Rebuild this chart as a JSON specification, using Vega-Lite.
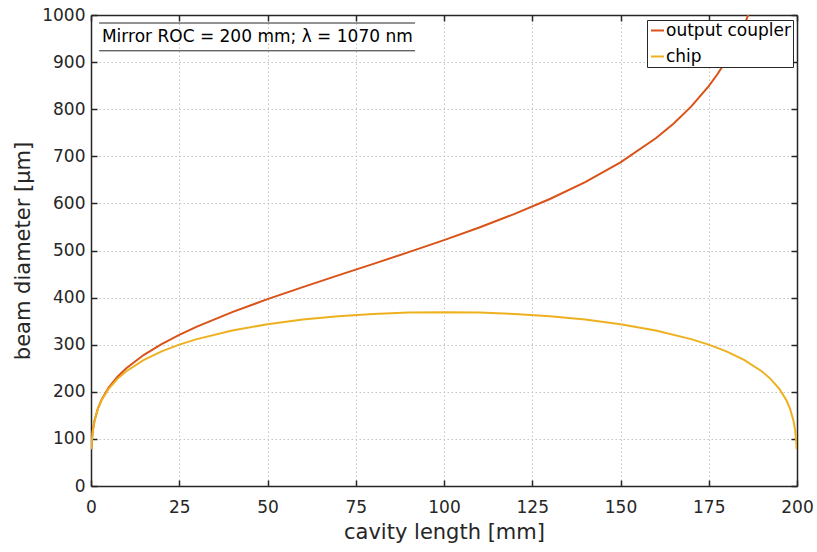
{
  "$schema": "https://vega.github.io/schema/vega-lite/v6.json",
  "width": 706,
  "height": 471,
  "autosize": "none",
  "padding": {"left": 91, "top": 15, "right": 20, "bottom": 66},
  "background": "white",
  "config": {
    "view": {"stroke": null},
    "font": "DejaVu Sans",
    "axis": {
      "labelFont": "DejaVu Sans",
      "titleFont": "DejaVu Sans",
      "labelFontSize": 17,
      "titleFontSize": 21,
      "titleFontWeight": "normal",
      "labelColor": "#262626",
      "titleColor": "#262626",
      "labelFlush": false,
      "labelOverlap": false,
      "format": "d",
      "domainColor": "#262626",
      "domainWidth": 1.5,
      "tickColor": "#262626",
      "tickWidth": 1.5,
      "tickSize": 6,
      "gridColor": "#c4c4c4",
      "gridDash": [1.5, 2.5],
      "gridWidth": 1
    }
  },
  "layer": [
    {
      "data": {
        "values": [
          {"L": 0.1, "D": 78.07, "s": "output coupler"},
          {"L": 0.2, "D": 92.85, "s": "output coupler"},
          {"L": 0.5, "D": 116.8, "s": "output coupler"},
          {"L": 1, "D": 138.98, "s": "output coupler"},
          {"L": 2, "D": 165.49, "s": "output coupler"},
          {"L": 3, "D": 183.37, "s": "output coupler"},
          {"L": 5, "D": 208.88, "s": "output coupler"},
          {"L": 7.5, "D": 231.91, "s": "output coupler"},
          {"L": 10, "D": 250.03, "s": "output coupler"},
          {"L": 15, "D": 278.55, "s": "output coupler"},
          {"L": 20, "D": 301.38, "s": "output coupler"},
          {"L": 25, "D": 320.92, "s": "output coupler"},
          {"L": 30, "D": 338.33, "s": "output coupler"},
          {"L": 40, "D": 369.11, "s": "output coupler"},
          {"L": 50, "D": 396.64, "s": "output coupler"},
          {"L": 60, "D": 422.35, "s": "output coupler"},
          {"L": 70, "D": 447.16, "s": "output coupler"},
          {"L": 80, "D": 471.68, "s": "output coupler"},
          {"L": 90, "D": 496.46, "s": "output coupler"},
          {"L": 100, "D": 522.0, "s": "output coupler"},
          {"L": 110, "D": 548.86, "s": "output coupler"},
          {"L": 120, "D": 577.69, "s": "output coupler"},
          {"L": 130, "D": 609.37, "s": "output coupler"},
          {"L": 140, "D": 645.16, "s": "output coupler"},
          {"L": 150, "D": 686.99, "s": "output coupler"},
          {"L": 160, "D": 738.22, "s": "output coupler"},
          {"L": 165, "D": 769.17, "s": "output coupler"},
          {"L": 170, "D": 805.38, "s": "output coupler"},
          {"L": 175, "D": 849.07, "s": "output coupler"},
          {"L": 177.5, "D": 874.8, "s": "output coupler"},
          {"L": 180, "D": 904.13, "s": "output coupler"},
          {"L": 183, "D": 945.52, "s": "output coupler"},
          {"L": 185, "D": 978.23, "s": "output coupler"},
          {"L": 186, "D": 996.59, "s": "output coupler"},
          {"L": 186.2, "D": 1000.45, "s": "output coupler"},
          {"L": 0.1, "D": 78.05, "s": "chip"},
          {"L": 0.2, "D": 92.8, "s": "chip"},
          {"L": 0.5, "D": 116.65, "s": "chip"},
          {"L": 1, "D": 138.63, "s": "chip"},
          {"L": 2, "D": 164.65, "s": "chip"},
          {"L": 3, "D": 181.98, "s": "chip"},
          {"L": 5, "D": 206.25, "s": "chip"},
          {"L": 7.5, "D": 227.52, "s": "chip"},
          {"L": 10, "D": 243.69, "s": "chip"},
          {"L": 15, "D": 267.89, "s": "chip"},
          {"L": 20, "D": 285.9, "s": "chip"},
          {"L": 25, "D": 300.18, "s": "chip"},
          {"L": 30, "D": 311.91, "s": "chip"},
          {"L": 40, "D": 330.13, "s": "chip"},
          {"L": 50, "D": 343.49, "s": "chip"},
          {"L": 60, "D": 353.36, "s": "chip"},
          {"L": 70, "D": 360.5, "s": "chip"},
          {"L": 80, "D": 365.35, "s": "chip"},
          {"L": 90, "D": 368.17, "s": "chip"},
          {"L": 100, "D": 369.1, "s": "chip"},
          {"L": 110, "D": 368.17, "s": "chip"},
          {"L": 120, "D": 365.35, "s": "chip"},
          {"L": 130, "D": 360.5, "s": "chip"},
          {"L": 140, "D": 353.36, "s": "chip"},
          {"L": 150, "D": 343.49, "s": "chip"},
          {"L": 160, "D": 330.13, "s": "chip"},
          {"L": 170, "D": 311.91, "s": "chip"},
          {"L": 175, "D": 300.18, "s": "chip"},
          {"L": 180, "D": 285.9, "s": "chip"},
          {"L": 185, "D": 267.89, "s": "chip"},
          {"L": 190, "D": 243.69, "s": "chip"},
          {"L": 192.5, "D": 227.52, "s": "chip"},
          {"L": 195, "D": 206.25, "s": "chip"},
          {"L": 197, "D": 181.98, "s": "chip"},
          {"L": 198, "D": 164.65, "s": "chip"},
          {"L": 199, "D": 138.63, "s": "chip"},
          {"L": 199.5, "D": 116.65, "s": "chip"},
          {"L": 199.8, "D": 92.8, "s": "chip"},
          {"L": 199.9, "D": 78.05, "s": "chip"}
        ]
      },
      "mark": {"type": "line", "strokeWidth": 2, "clip": true},
      "encoding": {
        "x": {
          "field": "L", "type": "quantitative",
          "scale": {"domain": [0, 200], "nice": false},
          "axis": {"orient": "bottom", "values": [0, 25, 50, 75, 100, 125, 150, 175, 200], "title": "cavity length [mm]", "grid": true, "ticks": false, "tickSize": 0, "labelPadding": 13, "titlePadding": 6}
        },
        "y": {
          "field": "D", "type": "quantitative",
          "scale": {"domain": [0, 1000], "nice": false},
          "axis": {"orient": "left", "values": [0, 100, 200, 300, 400, 500, 600, 700, 800, 900, 1000], "title": "beam diameter [µm]", "grid": true, "ticks": false, "tickSize": 0, "labelPadding": 6, "titlePadding": 8}
        },
        "color": {
          "field": "s", "type": "nominal",
          "scale": {"domain": ["output coupler", "chip"], "range": ["#D95319", "#EDB120"]},
          "legend": {
            "title": null,
            "orient": "none",
            "legendX": 556,
            "legendY": 5,
            "symbolType": "stroke",
            "symbolSize": 170,
            "symbolStrokeWidth": 2,
            "labelFont": "DejaVu Sans",
            "labelFontSize": 17,
            "labelColor": "#000000",
            "labelOffset": 0,
            "rowPadding": 8,
            "strokeColor": "#262626",
            "fillColor": "white",
            "padding": 2
          }
        }
      }
    },
    {
      "data": {"values": [{"x": 2.3, "x2": 91.8, "y": 983}, {"x": 2.3, "x2": 91.8, "y": 924}]},
      "mark": {"type": "rule", "color": "#262626", "strokeWidth": 1},
      "encoding": {
        "x": {"field": "x", "type": "quantitative", "axis": {"orient": "bottom", "offset": -471, "labels": false, "title": null, "grid": false, "values": [0, 25, 50, 75, 100, 125, 150, 175, 200]}},
        "x2": {"field": "x2"},
        "y": {"field": "y", "type": "quantitative", "axis": {"orient": "left", "offset": -706, "labels": false, "title": null, "grid": false, "values": [0, 100, 200, 300, 400, 500, 600, 700, 800, 900, 1000]}}
      }
    },
    {
      "data": {"values": [{"x": 3.1, "y": 953, "t": "Mirror ROC = 200 mm; λ = 1070 nm"}]},
      "mark": {"type": "text", "align": "left", "baseline": "middle", "font": "DejaVu Sans", "fontSize": 17, "color": "#000000"},
      "encoding": {
        "x": {"field": "x", "type": "quantitative", "axis": {"orient": "top", "offset": -471, "labels": false, "title": null, "grid": false, "domain": false, "values": [0, 25, 50, 75, 100, 125, 150, 175, 200]}},
        "y": {"field": "y", "type": "quantitative", "axis": {"orient": "right", "offset": -706, "labels": false, "title": null, "grid": false, "domain": false, "values": [0, 100, 200, 300, 400, 500, 600, 700, 800, 900, 1000]}},
        "text": {"field": "t"}
      }
    }
  ],
  "resolve": {"axis": {"x": "independent", "y": "independent"}}
}
